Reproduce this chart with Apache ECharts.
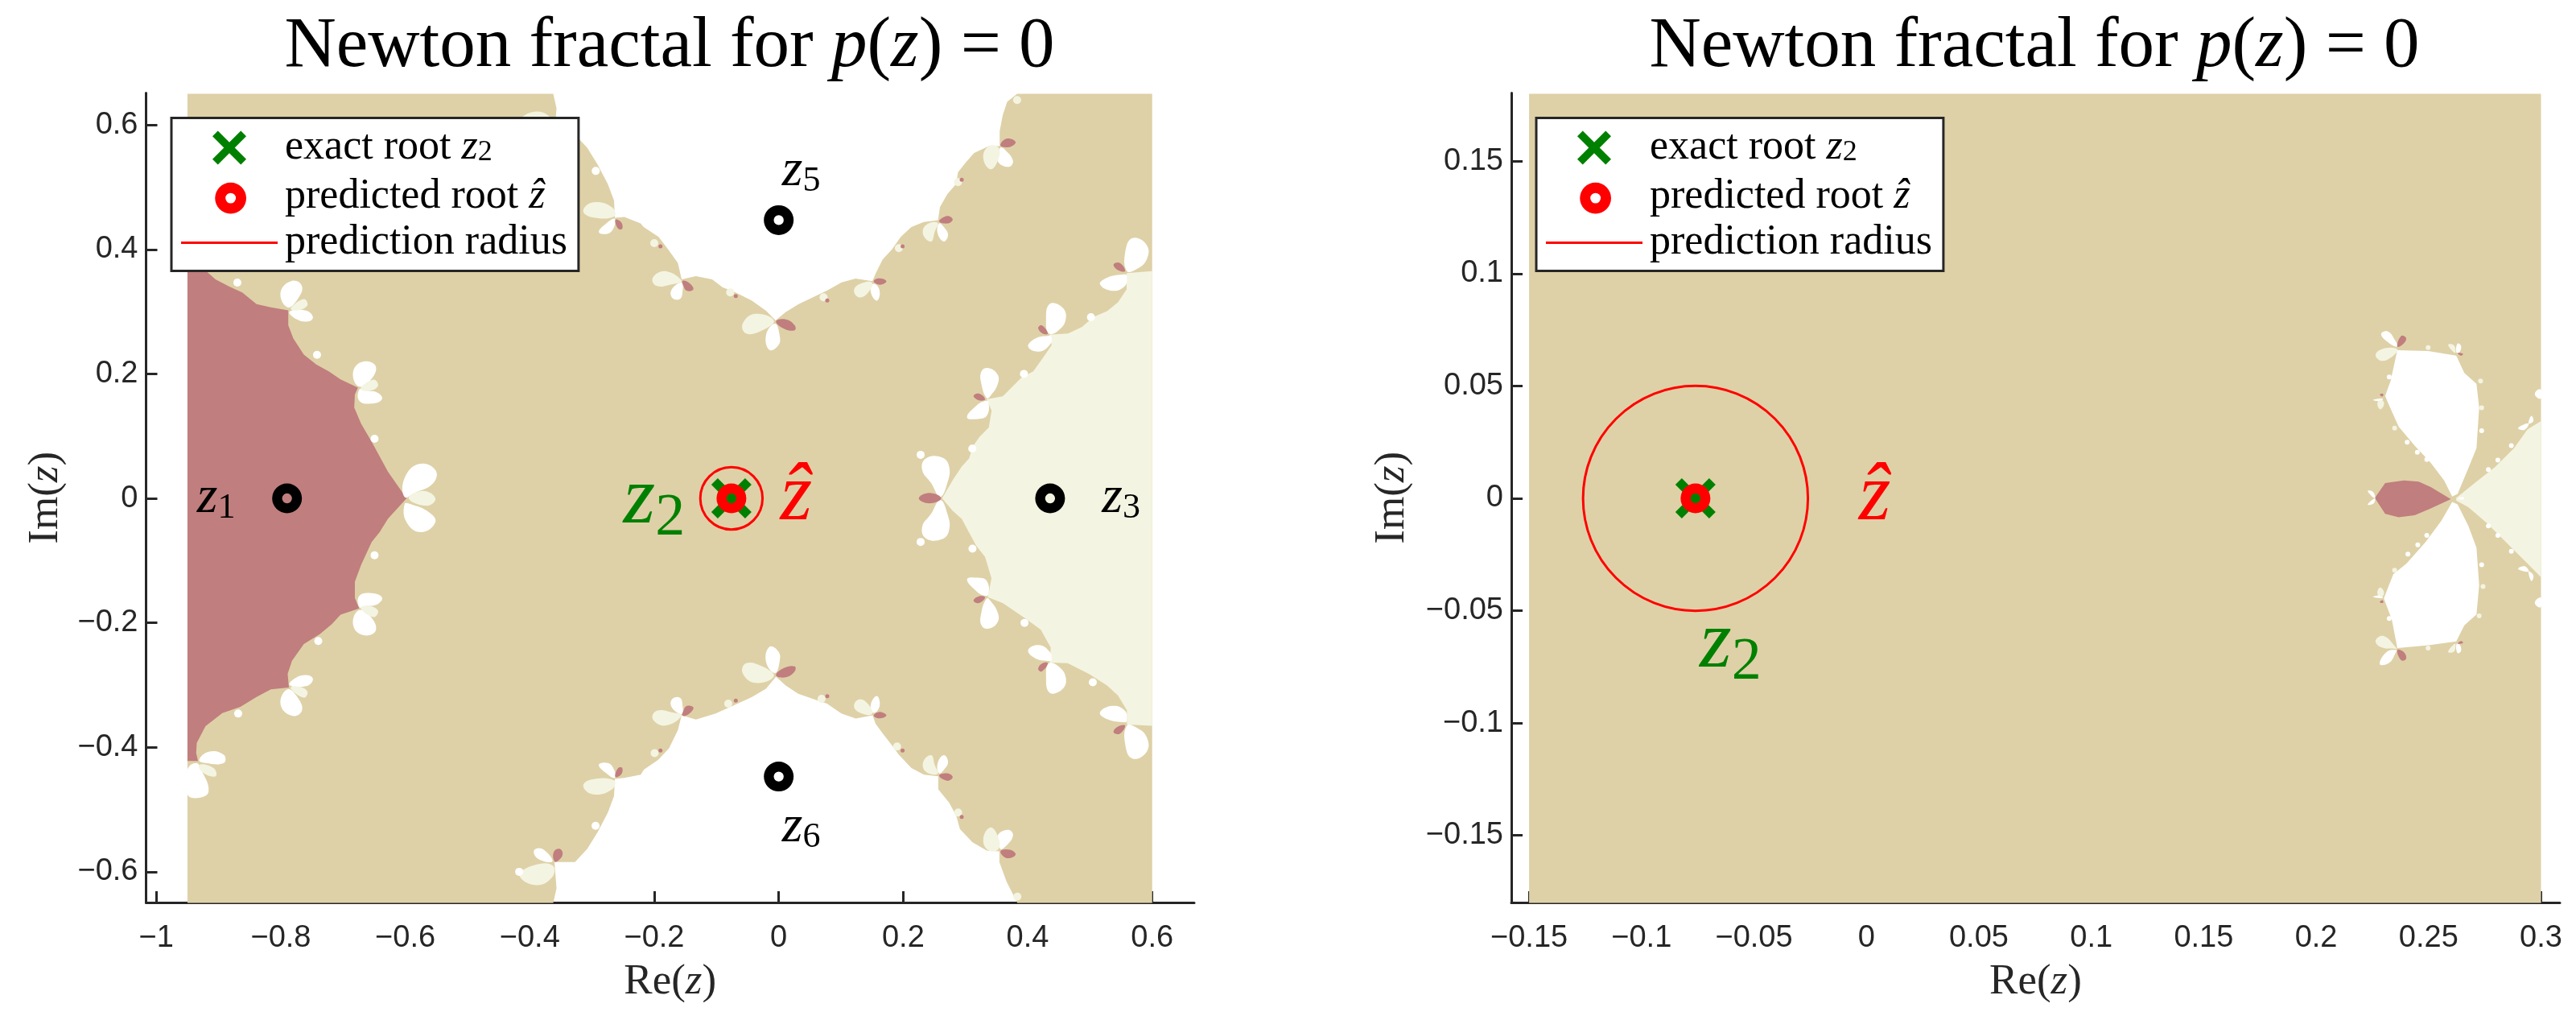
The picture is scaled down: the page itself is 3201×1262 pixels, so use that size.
<!DOCTYPE html>
<html><head><meta charset="utf-8">
<style>html,body{margin:0;padding:0;background:#fff}#c{width:3201px;height:1262px}</style>
<script src="https://cdn.jsdelivr.net/npm/echarts@6/dist/echarts.min.js"></script>
</head><body><div id="c"></div>
<script>
// ---------- tick values ----------
const leftXTicks=[-1,-0.8,-0.6,-0.4,-0.2,0,0.2,0.4,0.6];
const leftYTicks=[-0.6,-0.4,-0.2,0,0.2,0.4,0.6];
const rightXTicks=[-0.15,-0.1,-0.05,0,0.05,0.1,0.15,0.2,0.25,0.3];
const rightYTicks=[-0.15,-0.1,-0.05,0,0.05,0.1,0.15];
// ---------- roots ----------
const otherRoots=[[-0.79,0],[0.436,0],[0,0.447],[0,-0.447]];
const exactRoot=[[-0.076,0]];
const predictedRoot=[[-0.076,0]];
const predictionRadius=0.05;
// ---------- image extents ----------
const rightImage=[[-0.15,0.18],[0.3,0.18],[0.3,-0.18],[-0.15,-0.18]];
// ---------- left panel: basin outlines ----------
const leftRoseBasin=[[[-0.95,0.422],[-0.933,0.422],[-0.936,0.409],[-0.935,0.393],[-0.921,0.366],[-0.905,0.352],[-0.882,0.34],[-0.862,0.331],[-0.839,0.312],[-0.816,0.307],[-0.788,0.302],[-0.788,0.278],[-0.78,0.257],[-0.763,0.231],[-0.743,0.215],[-0.723,0.204],[-0.704,0.191],[-0.676,0.178],[-0.681,0.167],[-0.682,0.146],[-0.671,0.12],[-0.654,0.091],[-0.648,0.08],[-0.628,0.043],[-0.598,0],[-0.628,-0.033],[-0.641,-0.054],[-0.654,-0.07],[-0.671,-0.107],[-0.681,-0.134],[-0.681,-0.16],[-0.674,-0.177],[-0.704,-0.187],[-0.718,-0.202],[-0.737,-0.218],[-0.763,-0.234],[-0.782,-0.261],[-0.789,-0.282],[-0.787,-0.304],[-0.816,-0.307],[-0.839,-0.319],[-0.865,-0.335],[-0.894,-0.345],[-0.921,-0.366],[-0.935,-0.393],[-0.936,-0.409],[-0.933,-0.422],[-0.95,-0.422]]];
const leftCreamBasin=[[[0.2624,0],[0.28,0.03],[0.294,0.051],[0.306,0.0645],[0.3116,0.083],[0.3225,0.0985],[0.3375,0.114],[0.342,0.141],[0.334,0.159],[0.36,0.164],[0.39,0.194],[0.409,0.204],[0.424,0.225],[0.4385,0.246],[0.4345,0.263],[0.465,0.265],[0.4875,0.2755],[0.505,0.291],[0.528,0.301],[0.545,0.315],[0.559,0.336],[0.559,0.362],[0.6,0.365],[0.6,-0.3654],[0.5594,-0.3633],[0.5594,-0.3405],[0.5449,-0.3167],[0.5276,-0.3008],[0.4988,-0.2822],[0.4642,-0.2647],[0.4353,-0.2637],[0.4371,-0.2398],[0.4209,-0.2107],[0.3949,-0.1921],[0.3603,-0.1683],[0.336,-0.1587],[0.3418,-0.1285],[0.3315,-0.0941],[0.317,-0.0755],[0.3055,-0.0543],[0.294,-0.0331],[0.2795,-0.0199]]];
// the white basins of z5 and z6 are left unpainted: the tan outline runs around them
const whiteBasinTop=[[-0.3623,0.65],[-0.357,0.6267],[-0.3603,0.5843],[-0.3273,0.5843],[-0.3075,0.5631],[-0.2911,0.5366],[-0.2745,0.5048],[-0.2646,0.4783],[-0.2633,0.4507],[-0.248,0.452],[-0.222,0.4416],[-0.217,0.436],[-0.193,0.42],[-0.177,0.399],[-0.162,0.378],[-0.156,0.352],[-0.133,0.357],[-0.107,0.352],[-0.09,0.339],[-0.072,0.332],[-0.043,0.3175],[-0.02,0.301],[-0.005,0.286],[0.011,0.299],[0.032,0.312],[0.055,0.323],[0.078,0.334],[0.101,0.347],[0.1235,0.353],[0.1505,0.349],[0.156,0.362],[0.167,0.384],[0.182,0.4],[0.196,0.42],[0.213,0.436],[0.233,0.444],[0.256,0.447],[0.259,0.468],[0.271,0.489],[0.285,0.505],[0.288,0.524],[0.3,0.539],[0.314,0.555],[0.3375,0.566],[0.355,0.566],[0.355,0.59],[0.36,0.616],[0.367,0.637],[0.383,0.65]];
const whiteBasinBottom=[[0.3834,-0.65],[0.3661,-0.616],[0.3545,-0.5843],[0.3545,-0.5673],[0.3343,-0.5658],[0.3113,-0.5525],[0.2911,-0.5313],[0.2853,-0.5101],[0.2738,-0.489],[0.2564,-0.4677],[0.2564,-0.4465],[0.2334,-0.4439],[0.2132,-0.4333],[0.193,-0.4121],[0.1814,-0.3962],[0.167,-0.3776],[0.1555,-0.3617],[0.1508,-0.3485],[0.1237,-0.3538],[0.1007,-0.3458],[0.0776,-0.3299],[0.0545,-0.322],[0.0314,-0.314],[0.0112,-0.3008],[-0.0044,-0.2865],[-0.0205,-0.306],[-0.0436,-0.3193],[-0.0725,-0.3326],[-0.1013,-0.3458],[-0.133,-0.3553],[-0.1561,-0.3485],[-0.1619,-0.3723],[-0.1763,-0.4015],[-0.1936,-0.42],[-0.2167,-0.436],[-0.2217,-0.4439],[-0.2481,-0.4492],[-0.2633,-0.4507],[-0.2646,-0.4783],[-0.2745,-0.5048],[-0.2911,-0.5366],[-0.3075,-0.5631],[-0.3273,-0.5843],[-0.3603,-0.5843],[-0.357,-0.6267],[-0.3623,-0.65]];
const leftTanBasin=[[[-0.95,0.65],...whiteBasinTop,[0.6,0.65],[0.6,-0.65],...whiteBasinBottom,[-0.95,-0.65]]];
// ---------- left panel: petals at the basin junctions ----------
const leftWhitePetals=[
[[0.2593,0.0024],[0.2449,0.0245],[0.2305,0.0457],[0.2363,0.0642],[0.2622,0.0657],[0.2738,0.0509],[0.2709,0.0245]],
[[0.2593,-0.0024],[0.2449,-0.0245],[0.2305,-0.0457],[0.2363,-0.0642],[0.2622,-0.0657],[0.2738,-0.0509],[0.2709,-0.0245]],
[[0.3343,0.1608],[0.3257,0.183],[0.3257,0.204],[0.3372,0.2093],[0.3517,0.1988],[0.3517,0.183],[0.3401,0.1645]],
[[0.3315,0.1566],[0.317,0.1486],[0.3026,0.1301],[0.32,0.1275],[0.3343,0.1328],[0.3372,0.154]],
[[0.3343,-0.1608],[0.3257,-0.183],[0.3257,-0.204],[0.3372,-0.2093],[0.3517,-0.1988],[0.3517,-0.183],[0.3401,-0.1645]],
[[0.3315,-0.1566],[0.317,-0.1486],[0.3026,-0.1301],[0.32,-0.1275],[0.3343,-0.1328],[0.3372,-0.154]],
[[0.4342,0.2648],[0.4295,0.2859],[0.4353,0.3123],[0.4555,0.307],[0.4613,0.2885],[0.4497,0.2701]],
[[0.4324,0.2611],[0.4122,0.2569],[0.4007,0.2437],[0.418,0.2357],[0.4353,0.2463],[0.4382,0.2595]],
[[0.4342,-0.2648],[0.4295,-0.2859],[0.4353,-0.3123],[0.4555,-0.307],[0.4613,-0.2885],[0.4497,-0.2701]],
[[0.4324,-0.2611],[0.4122,-0.2569],[0.4007,-0.2437],[0.418,-0.2357],[0.4353,-0.2463],[0.4382,-0.2595]],
[[0.5594,0.3651],[0.5565,0.3941],[0.568,0.418],[0.5911,0.4073],[0.5911,0.3836],[0.5738,0.3677]],
[[0.5565,0.3598],[0.5276,0.3546],[0.5161,0.344],[0.5363,0.3334],[0.5565,0.3414],[0.5594,0.3572]],
[[0.5594,-0.3651],[0.5565,-0.3941],[0.568,-0.418],[0.5911,-0.4073],[0.5911,-0.3836],[0.5738,-0.3677]],
[[0.5565,-0.3598],[0.5276,-0.3546],[0.5161,-0.344],[0.5363,-0.3334],[0.5565,-0.3414],[0.5594,-0.3572]],
[[-0.0061,0.2806],[-0.0205,0.2621],[-0.0147,0.2384],[-0.0003,0.2463],[0.0014,0.2621]],
[[-0.0061,-0.2806],[-0.0205,-0.2621],[-0.0147,-0.2384],[-0.0003,-0.2463],[0.0014,-0.2621]],
[[0.1508,0.344],[0.148,0.3308],[0.1572,0.3176],[0.1624,0.3282],[0.1584,0.3414]],
[[0.1508,-0.344],[0.148,-0.3308],[0.1572,-0.3176],[0.1624,-0.3282],[0.1584,-0.3414]],
[[-0.1561,0.3466],[-0.1717,0.336],[-0.1717,0.3229],[-0.159,0.3202],[-0.1544,0.3334]],
[[-0.1561,-0.3466],[-0.1717,-0.336],[-0.1717,-0.3229],[-0.159,-0.3202],[-0.1544,-0.3334]],
[[0.2576,0.4417],[0.2553,0.4258],[0.2651,0.4126],[0.272,0.4232],[0.2651,0.4364]],
[[0.2576,-0.4417],[0.2553,-0.4258],[0.2651,-0.4126],[0.272,-0.4232],[0.2651,-0.4364]],
[[0.3557,0.5631],[0.3517,0.542],[0.369,0.5325],[0.3764,0.542],[0.3632,0.5605]],
[[0.3557,-0.5631],[0.3517,-0.542],[0.369,-0.5325],[0.3764,-0.542],[0.3632,-0.5605]],
[[-0.2633,0.4492],[-0.2778,0.4412],[-0.289,0.428],[-0.2745,0.4253],[-0.2646,0.4359]],
[[-0.2633,-0.4492],[-0.2778,-0.4412],[-0.289,-0.428],[-0.2745,-0.4253],[-0.2646,-0.4359]],
[[-0.3636,0.5833],[-0.38,0.5631],[-0.3933,0.5658],[-0.3867,0.579]],
[[-0.3636,-0.5833],[-0.38,-0.5631],[-0.3933,-0.5658],[-0.3867,-0.579]],
[[-0.6012,0.0024],[-0.6012,0.0325],[-0.5781,0.0552],[-0.5517,0.0457],[-0.555,0.0245],[-0.5847,0.0087]],
[[-0.6012,-0.0093],[-0.5979,-0.0384],[-0.5748,-0.0543],[-0.5517,-0.0384],[-0.5616,-0.0225],[-0.5913,-0.0093]],
[[-0.6755,0.18],[-0.6837,0.204],[-0.6672,0.2199],[-0.6474,0.212],[-0.6573,0.1882]],
[[-0.6738,0.175],[-0.6738,0.1566],[-0.654,0.1523],[-0.6375,0.1592],[-0.644,0.1696],[-0.6639,0.1734]],
[[-0.6755,-0.18],[-0.6837,-0.204],[-0.6672,-0.2199],[-0.6474,-0.212],[-0.6573,-0.1882]],
[[-0.6738,-0.175],[-0.6738,-0.1566],[-0.654,-0.1523],[-0.6375,-0.1592],[-0.644,-0.1696],[-0.6639,-0.1734]],
[[-0.7893,0.307],[-0.8005,0.3308],[-0.7827,0.3493],[-0.7662,0.3414],[-0.7728,0.3202]],
[[-0.786,0.3002],[-0.7761,0.2885],[-0.7563,0.2843],[-0.7484,0.2912],[-0.7596,0.3018]],
[[-0.7893,-0.307],[-0.8005,-0.3308],[-0.7827,-0.3493],[-0.7662,-0.3414],[-0.7728,-0.3202]],
[[-0.786,-0.3002],[-0.7761,-0.2885],[-0.7563,-0.2843],[-0.7484,-0.2912],[-0.7596,-0.3018]],
[[-0.9312,-0.42],[-0.9147,-0.4068],[-0.8916,-0.4121],[-0.8916,-0.4253],[-0.9213,-0.4253]],
[[-0.9358,-0.4253],[-0.95,-0.4359],[-0.95,-0.4757],[-0.9312,-0.481],[-0.916,-0.4704],[-0.9279,-0.4359]]
];
const leftCreamPetals=[
[[-0.0078,0.2859],[-0.0378,0.2965],[-0.058,0.2806],[-0.0523,0.2648],[-0.0263,0.27]],
[[-0.0078,-0.2859],[-0.0378,-0.2965],[-0.058,-0.2806],[-0.0523,-0.2648],[-0.0263,-0.27]],
[[0.1497,0.3466],[0.1295,0.344],[0.1209,0.3334],[0.1295,0.3229],[0.1439,0.3308]],
[[0.1497,-0.3466],[0.1295,-0.344],[0.1209,-0.3334],[0.1295,-0.3229],[0.1439,-0.3308]],
[[-0.1561,0.3493],[-0.1821,0.3651],[-0.2023,0.3546],[-0.1965,0.3414],[-0.1705,0.344]],
[[-0.1561,-0.3493],[-0.1821,-0.3651],[-0.2023,-0.3546],[-0.1965,-0.3414],[-0.1705,-0.344]],
[[0.2553,0.4427],[0.2363,0.439],[0.2322,0.4232],[0.2449,0.4126],[0.2507,0.4285]],
[[0.2553,-0.4427],[0.2363,-0.439],[0.2322,-0.4232],[0.2449,-0.4126],[0.2507,-0.4285]],
[[0.3534,0.5631],[0.3372,0.5657],[0.3286,0.5473],[0.3401,0.5288],[0.3517,0.542]],
[[0.3534,-0.5631],[0.3372,-0.5657],[0.3286,-0.5473],[0.3401,-0.5288],[0.3517,-0.542]],
[[-0.2646,0.4529],[-0.3009,0.4518],[-0.3141,0.4624],[-0.2976,0.4757],[-0.2678,0.4677]],
[[-0.2646,-0.4529],[-0.3009,-0.4518],[-0.3141,-0.4624],[-0.2976,-0.4757],[-0.2678,-0.4677]],
[[-0.3636,0.5896],[-0.3933,0.5896],[-0.4164,0.6055],[-0.3899,0.6214],[-0.3636,0.6082]],
[[-0.3636,-0.5896],[-0.3933,-0.5896],[-0.4164,-0.6055],[-0.3899,-0.6214],[-0.3636,-0.6082]],
[[-0.5946,0],[-0.5715,0.012],[-0.5517,0],[-0.5649,-0.012]],
[[-0.6718,0.1766],[-0.6507,0.1909],[-0.644,0.1802],[-0.6606,0.1723]],
[[-0.6718,-0.1766],[-0.6507,-0.1909],[-0.644,-0.1802],[-0.6606,-0.1723]],
[[-0.784,0.3055],[-0.7629,0.3202],[-0.7576,0.3096],[-0.7761,0.3018]],
[[-0.784,-0.3055],[-0.7629,-0.3202],[-0.7576,-0.3096],[-0.7761,-0.3018]],
[[-0.9312,-0.428],[-0.908,-0.4333],[-0.9047,-0.4465],[-0.9246,-0.4412]]
];
const leftRosePetals=[
[[0.261,0],[0.242,0.0087],[0.225,0],[0.242,-0.008]],
[[0.3315,0.1592],[0.322,0.1682],[0.313,0.1645],[0.3215,0.1575]],
[[0.3315,-0.1592],[0.322,-0.1682],[0.313,-0.1645],[0.3215,-0.1575]],
[[0.4324,0.2648],[0.4226,0.278],[0.4168,0.2738],[0.4238,0.2648]],
[[0.4324,-0.2648],[0.4226,-0.278],[0.4168,-0.2738],[0.4238,-0.2648]],
[[0.5565,0.3651],[0.5478,0.3783],[0.538,0.3757],[0.5449,0.3667]],
[[0.5565,-0.3651],[0.5478,-0.3783],[0.538,-0.3757],[0.5449,-0.3667]],
[[-0.0044,0.2843],[0.0112,0.2875],[0.0256,0.278],[0.0256,0.27],[0.0083,0.2727]],
[[-0.0044,-0.2843],[0.0112,-0.2875],[0.0256,-0.278],[0.0256,-0.27],[0.0083,-0.2727]],
[[0.1526,0.3493],[0.1612,0.3535],[0.1728,0.3493],[0.167,0.344],[0.1584,0.344]],
[[0.1526,-0.3493],[0.1612,-0.3535],[0.1728,-0.3493],[0.167,-0.344],[0.1584,-0.344]],
[[-0.1544,0.3493],[-0.1446,0.3466],[-0.1371,0.336],[-0.1475,0.3334],[-0.1532,0.3414]],
[[-0.1544,-0.3493],[-0.1446,-0.3466],[-0.1371,-0.336],[-0.1475,-0.3334],[-0.1532,-0.3414]],
[[0.2576,0.4453],[0.271,0.4538],[0.2795,0.448],[0.271,0.4417]],
[[0.2576,-0.4453],[0.271,-0.4538],[0.2795,-0.448],[0.271,-0.4417]],
[[0.3563,0.5668],[0.366,0.578],[0.3805,0.5726],[0.3718,0.5647]],
[[0.3563,-0.5668],[0.366,-0.578],[0.3805,-0.5726],[0.3718,-0.5647]],
[[-0.2626,0.4476],[-0.258,0.4333],[-0.2514,0.4333],[-0.2534,0.4439]],
[[-0.2626,-0.4476],[-0.258,-0.4333],[-0.2514,-0.4333],[-0.2534,-0.4439]],
[[-0.3603,0.5833],[-0.3616,0.5684],[-0.3524,0.5631],[-0.3471,0.571],[-0.3537,0.5817]],
[[-0.3603,-0.5833],[-0.3616,-0.5684],[-0.3524,-0.5631],[-0.3471,-0.571],[-0.3537,-0.5817]]
];
const leftWhiteSpecks=[[-0.294,0.526],[-0.8698,0.3466],[-0.7418,0.2305],[-0.6494,0.0958],[-0.6494,-0.0914],[-0.7398,-0.2292],[-0.8685,-0.3458],[0.311,0.08],[0.394,0.2],[0.5016,0.291],[0.3113,-0.0808],[0.3949,-0.2],[0.5046,-0.2955],[-0.2943,-0.526],[0.228,0.07],[0.228,-0.07],[-0.417,-0.6],[-0.417,0.6]];
const leftCreamSpecks=[[0.288,0.508],[0.193,0.402],[0.072,0.323],[-0.078,0.331],[-0.2,0.41],[0.383,0.64],[0.1901,-0.3988],[0.2882,-0.5048],[0.0689,-0.322],[-0.0811,-0.3299],[-0.1994,-0.4094],[0.3834,-0.64]];
const leftRoseSpecks=[[0.199,0.405],[0.078,0.318],[-0.069,0.325],[0.294,0.512],[-0.19,0.405],[0.199,-0.405],[0.078,-0.318],[-0.069,-0.325],[0.294,-0.512],[-0.19,-0.405]];
// ---------- right panel: basins and petals ----------
const rightRoseBasin=[[[0.2599,-0.0004],[0.251,0.005],[0.2456,0.0074],[0.239,0.008],[0.2307,0.0068],[0.2261,0.0002],[0.2307,-0.0069],[0.2367,-0.0084],[0.2438,-0.0075],[0.251,-0.0045]]];
const rightCreamBasin=[[[0.2623,0.0002],[0.2713,0.0074],[0.2796,0.014],[0.288,0.0223],[0.294,0.0307],[0.2999,0.0343],[0.2999,-0.035],[0.294,-0.029],[0.2856,-0.0207],[0.276,-0.0111],[0.2677,-0.0039],[0.2623,-0.001]]];
const rightWhiteBasins=[
[[0.2605,0.0008],[0.2569,0.008],[0.251,0.0158],[0.2438,0.0235],[0.2367,0.0319],[0.2319,0.0426],[0.2307,0.0456],[0.2331,0.0522],[0.2361,0.0659],[0.2498,0.0656],[0.2623,0.0635],[0.2659,0.0558],[0.2713,0.051],[0.2725,0.0403],[0.2713,0.0223],[0.2677,0.0134],[0.2629,0.002]],
[[0.2605,-0.0016],[0.2557,-0.0099],[0.2486,-0.0195],[0.2402,-0.029],[0.2343,-0.0338],[0.2301,-0.0445],[0.2337,-0.0541],[0.2361,-0.0666],[0.2498,-0.0654],[0.2623,-0.0637],[0.2659,-0.0565],[0.2713,-0.0517],[0.2725,-0.0386],[0.2713,-0.0219],[0.2677,-0.0123],[0.2629,-0.0027]]
];
const rightWhitePetals=[
[[0.2361,0.0675],[0.2319,0.0695],[0.2289,0.0731],[0.2319,0.0743],[0.2349,0.0707]],
[[0.2357,-0.0675],[0.2313,-0.0684],[0.2283,-0.0738],[0.2325,-0.0732],[0.2355,-0.0684]],
[[0.2623,0.0651],[0.2629,0.0689],[0.2645,0.0677],[0.2635,0.0647]],
[[0.2623,-0.0651],[0.2629,-0.0689],[0.2645,-0.0677],[0.2635,-0.0647]],
[[0.2295,0.0444],[0.2253,0.0438],[0.2289,0.0432]],
[[0.2295,-0.0444],[0.2253,-0.0438],[0.2289,-0.0432]],
[[0.2261,0],[0.2229,0.0032],[0.2253,0.0029]],
[[0.2261,0],[0.2229,-0.0028],[0.2256,-0.0022]],
[[0.2999,0.0484],[0.2977,0.0476],[0.2975,0.0456],[0.2999,0.0444]],
[[0.2999,-0.0484],[0.2977,-0.0476],[0.2975,-0.0456],[0.2999,-0.0442]],
[[0.2945,0.0334],[0.2898,0.0313],[0.2927,0.0305]],
[[0.2945,0.0334],[0.2957,0.0367],[0.2966,0.0343]],
[[0.2945,-0.0326],[0.2898,-0.0314],[0.2927,-0.0302]],
[[0.2945,-0.0326],[0.2957,-0.0368],[0.2966,-0.0343]],
[[0.2632,0],[0.2655,0.0006],[0.2655,-0.0006]]
];
const rightCreamPetals=[
[[0.2361,0.0663],[0.2307,0.0668],[0.2265,0.0641],[0.2289,0.0612],[0.2337,0.063]],
[[0.2357,-0.0666],[0.2301,-0.0613],[0.2265,-0.0631],[0.2283,-0.066],[0.2357,-0.067]],
[[0.2617,0.0647],[0.2587,0.0683],[0.2611,0.0683],[0.262,0.0659]],
[[0.2617,-0.0647],[0.2587,-0.0683],[0.2611,-0.0683],[0.262,-0.0659]],
[[0.2295,0.0436],[0.2273,0.0426],[0.2283,0.0397],[0.2301,0.0414]],
[[0.2295,-0.0436],[0.2273,-0.0426],[0.2283,-0.0397],[0.2301,-0.0414]]
];
const rightRosePetals=[
[[0.2361,0.0675],[0.2378,0.0723],[0.24,0.0714],[0.239,0.069]],
[[0.2361,-0.0675],[0.2378,-0.072],[0.24,-0.0714],[0.239,-0.0684]],
[[0.2629,0.0647],[0.2653,0.0644],[0.2645,0.0635]],
[[0.2629,-0.0647],[0.2653,-0.0644],[0.2645,-0.0635]],
[[0.2295,0.0453],[0.2283,0.0462],[0.2298,0.0465]],
[[0.2295,-0.0453],[0.2283,-0.0462],[0.2298,-0.0465]]
];
const rightWhiteSpecks=[[0.2868,0.0235],[0.2808,0.017],[0.2766,0.0128],[0.2868,-0.0236],[0.2808,-0.0165],[0.2766,-0.0123],[0.2405,0.025],[0.245,0.0205],[0.2492,0.0173],[0.2736,0.0301],[0.2408,-0.0248],[0.2452,-0.0207],[0.2492,-0.0165],[0.2736,-0.0296],[0.2325,-0.0535],[0.2325,0.054]];
const rightCreamSpecks=[[0.2349,0.0313],[0.2736,0.0403],[0.2731,0.0522],[0.2498,0.0671],[0.2349,-0.032],[0.2742,-0.0392],[0.2725,-0.0523],[0.2498,-0.0666]];
// ---------- text labels anchored to the data ----------
const leftLabels=[[-0.934,0,'{z|z}{s|1}'],[0.52,0,'{z|z}{s|3}'],[0.006,0.525,'{z|z}{s|5}'],[0.006,-0.529,'{z|z}{s|6}']];
const leftGreenLabel=[[-0.249,-0.005]];
const leftRedLabel=[[0.003,0]];
const rightGreenLabel=[[-0.074,-0.0656]];
const rightRedLabel=[[-0.0032,0]];

const TAN='#DED1A7',ROSE='#C17E7E',CREAM='#F4F4E2',WHITE='#FFFFFF',AX='#262626';
const SERIF='"Liberation Serif","DejaVu Serif",serif',SANS='"Liberation Sans",Arial,sans-serif';
const ringPath='path://M18,0A18,18 0 1 1 18,36A18,18 0 1 1 18,0ZM18,12A6,6 0 1 0 18,24A6,6 0 1 0 18,12Z';
const ringIcon='path://M-3,-3h0.01v0.01h-0.01ZM18,0A18,18 0 1 1 18,36A18,18 0 1 1 18,0ZM18,12A6,6 0 1 0 18,24A6,6 0 1 0 18,12Z';
const xPath='path://M0,8L8,0L25,17L42,0L50,8L33,25L50,42L42,50L25,33L8,50L0,42L17,25Z';
const linePath='path://M0,0H120V3H0Z';

function polys(list,color,ax,smooth){
  return {type:'custom',coordinateSystem:'cartesian2d',xAxisIndex:ax,yAxisIndex:ax,silent:true,z:2,clip:false,
    data:list.map((_,i)=>[i]),
    renderItem:(p,api)=>({type:'polygon',shape:{points:list[p.dataIndex].map(q=>api.coord(q)),smooth:smooth||0},style:{fill:color}})};
}
function specks(list,color,size,ax){
  return {type:'scatter',xAxisIndex:ax,yAxisIndex:ax,silent:true,z:2,symbol:'circle',symbolSize:size,itemStyle:{color,opacity:1},data:list};
}
function rings(list,color,size,ax,name){
  return {type:'scatter',name,xAxisIndex:ax,yAxisIndex:ax,silent:true,z:5,symbol:ringPath,symbolSize:size,symbolKeepAspect:true,itemStyle:{color,opacity:1},data:list};
}
function words(list,ax,rich,tmpl,color){
  return {type:'scatter',xAxisIndex:ax,yAxisIndex:ax,silent:true,z:6,symbolSize:1,itemStyle:{color:'rgba(0,0,0,0)',opacity:1},
    data:list.map(d=>({value:[d[0],d[1]],label:{formatter:d[2]||tmpl}})),
    label:{show:true,position:[0,0],align:'left',verticalAlign:'middle',color,opacity:1,rich}};
}
function marks(ax){
  return [
   {type:'scatter',name:'exact root',xAxisIndex:ax,yAxisIndex:ax,silent:true,z:5,symbol:xPath,symbolSize:50,itemStyle:{color:'#008000',opacity:1},data:exactRoot},
   rings(predictedRoot,'#FF0000',37,ax,'predicted root'),
   {type:'custom',name:'prediction radius',coordinateSystem:'cartesian2d',xAxisIndex:ax,yAxisIndex:ax,silent:true,z:4,clip:true,
    itemStyle:{color:'#FF0000'},data:[[exactRoot[0][0],exactRoot[0][1]]],
    renderItem:(p,api)=>({type:'circle',shape:{cx:api.coord([api.value(0),api.value(1)])[0],cy:api.coord([api.value(0),api.value(1)])[1],r:api.size([predictionRadius,0])[0]},style:{fill:'none',stroke:'#FF0000',lineWidth:3}})}
  ];
}
const smallRich={z:{fontFamily:SERIF,fontStyle:'italic',fontSize:66,color:'#000'},s:{fontFamily:SERIF,fontSize:44,color:'#000',verticalAlign:'bottom',padding:[26,0,0,0]}};
function bigRich(color){return {z:{fontFamily:SERIF,fontStyle:'italic',fontSize:102,color},s:{fontFamily:SERIF,fontSize:74,color,verticalAlign:'bottom',padding:[44,0,0,0]}};}

function legendFor(left){
  return {left,top:146.5,orient:'vertical',selectedMode:false,itemWidth:120,itemHeight:42,itemGap:5,
    backgroundColor:'#fff',borderColor:AX,borderWidth:3,padding:[1,14,9,12],z:20,
    data:[{name:'exact root',icon:xPath,itemStyle:{color:'#008000'}},{name:'predicted root',icon:ringIcon,itemStyle:{color:'#FF0000'}},{name:'prediction radius',icon:linePath,itemStyle:{color:'#FF0000'}}],
    formatter:n=>n==='exact root'?'{t|exact root }{i|z}{b|2}':n==='predicted root'?'{t|predicted root }{i|\u1E91}':'{t|prediction radius}',
    textStyle:{rich:{t:{fontFamily:SERIF,fontSize:52,color:'#000',lineHeight:60,padding:[0,0,0,4]},i:{fontFamily:SERIF,fontStyle:'italic',fontSize:52,color:'#000',lineHeight:60},b:{fontFamily:SERIF,fontSize:36,color:'#000',verticalAlign:'bottom',lineHeight:24,padding:[24,0,6,0]}}}};
}
const nameRich={r:{fontFamily:SERIF,fontSize:53,color:AX},i:{fontFamily:SERIF,fontStyle:'italic',fontSize:53,color:AX}};
function xAxisFor(i,ticks,min,max,gap){
  return {type:'value',gridIndex:i,min,max,position:'bottom',silent:true,
    axisLine:{show:true,onZero:false,lineStyle:{color:AX,width:3}},
    axisTick:{show:true,inside:true,length:14,customValues:ticks,lineStyle:{color:AX,width:3}},
    axisLabel:{show:true,customValues:ticks,margin:26,color:AX,fontFamily:SANS,fontSize:38,formatter:v=>String(v).replace('-','\u2212')},
    splitLine:{show:false},
    name:'{r|Re(}{i|z}{r|)}',nameLocation:'middle',nameGap:gap,nameTextStyle:{rich:nameRich}};
}
function yAxisFor(i,ticks,min,max,gap){
  return {type:'value',gridIndex:i,min,max,position:'left',silent:true,
    axisLine:{show:true,onZero:false,lineStyle:{color:AX,width:3}},
    axisTick:{show:true,inside:true,length:14,customValues:ticks,lineStyle:{color:AX,width:3}},
    axisLabel:{show:true,customValues:ticks,margin:10,color:AX,fontFamily:SANS,fontSize:38,formatter:v=>String(v).replace('-','\u2212')},
    splitLine:{show:false},
    name:'{r|Im(}{i|z}{r|)}',nameLocation:'middle',nameGap:gap,nameRotate:90,nameTextStyle:{rich:nameRich}};
}
const titleRich={r:{fontFamily:SERIF,fontSize:89,fontWeight:'normal',color:'#000'},i:{fontFamily:SERIF,fontStyle:'italic',fontWeight:'normal',fontSize:89,color:'#000'}};
const titleText='{r|Newton fractal for }{i|p}{r|(}{i|z}{r|) = 0}';

const chart=echarts.init(document.getElementById('c'),null,{renderer:'canvas'});
chart.setOption({
  animation:false,backgroundColor:'#fff',
  title:[
   {text:titleText,left:827,top:9,textAlign:'center',textStyle:{fontWeight:'normal',rich:titleRich}},
   {text:titleText,left:2523,top:9,textAlign:'center',textStyle:{fontWeight:'normal',rich:titleRich}}
  ],
  legend:[legendFor(213),legendFor(1909)],
  grid:[
   {left:181.5,top:115.5,width:1302.5,height:1005.5},
   {left:1878,top:115.5,width:1303,height:1005.5}
  ],
  xAxis:[xAxisFor(0,leftXTicks,-1.0165,0.6676,73),xAxisFor(1,rightXTicks,-0.1579,0.3084,73)],
  yAxis:[yAxisFor(0,leftYTicks,-0.6493,0.6513,98),yAxisFor(1,rightYTicks,-0.17986,0.1804,121)],
  series:[
   polys(leftTanBasin,TAN,0),
   polys(leftRoseBasin,ROSE,0),
   polys(leftCreamBasin,CREAM,0),
   polys(leftWhitePetals,WHITE,0,0.45),
   polys(leftCreamPetals,CREAM,0,0.45),
   polys(leftRosePetals,ROSE,0,0.45),
   specks(leftWhiteSpecks,WHITE,10,0),
   specks(leftCreamSpecks,CREAM,10,0),
   specks(leftRoseSpecks,ROSE,5,0),
   rings(otherRoots,'#000',37,0,'other roots'),
   ...marks(0),
   words(leftLabels,0,smallRich,'','#000'),
   words(leftGreenLabel,0,bigRich('#008000'),'{z|z}{s|2}','#008000'),
   words(leftRedLabel,0,bigRich('#FF0000'),'{z|\u1E91}','#FF0000'),

   polys([rightImage],TAN,1),
   polys(rightRoseBasin,ROSE,1),
   polys(rightCreamBasin,CREAM,1),
   polys(rightWhiteBasins,WHITE,1),
   polys(rightWhitePetals,WHITE,1,0.45),
   polys(rightCreamPetals,CREAM,1,0.45),
   polys(rightRosePetals,ROSE,1,0.45),
   specks(rightWhiteSpecks,WHITE,6,1),
   specks(rightCreamSpecks,CREAM,6,1),
   ...marks(1),
   words(rightGreenLabel,1,bigRich('#008000'),'{z|z}{s|2}','#008000'),
   words(rightRedLabel,1,bigRich('#FF0000'),'{z|\u1E91}','#FF0000')
  ]
});
</script></body></html>
